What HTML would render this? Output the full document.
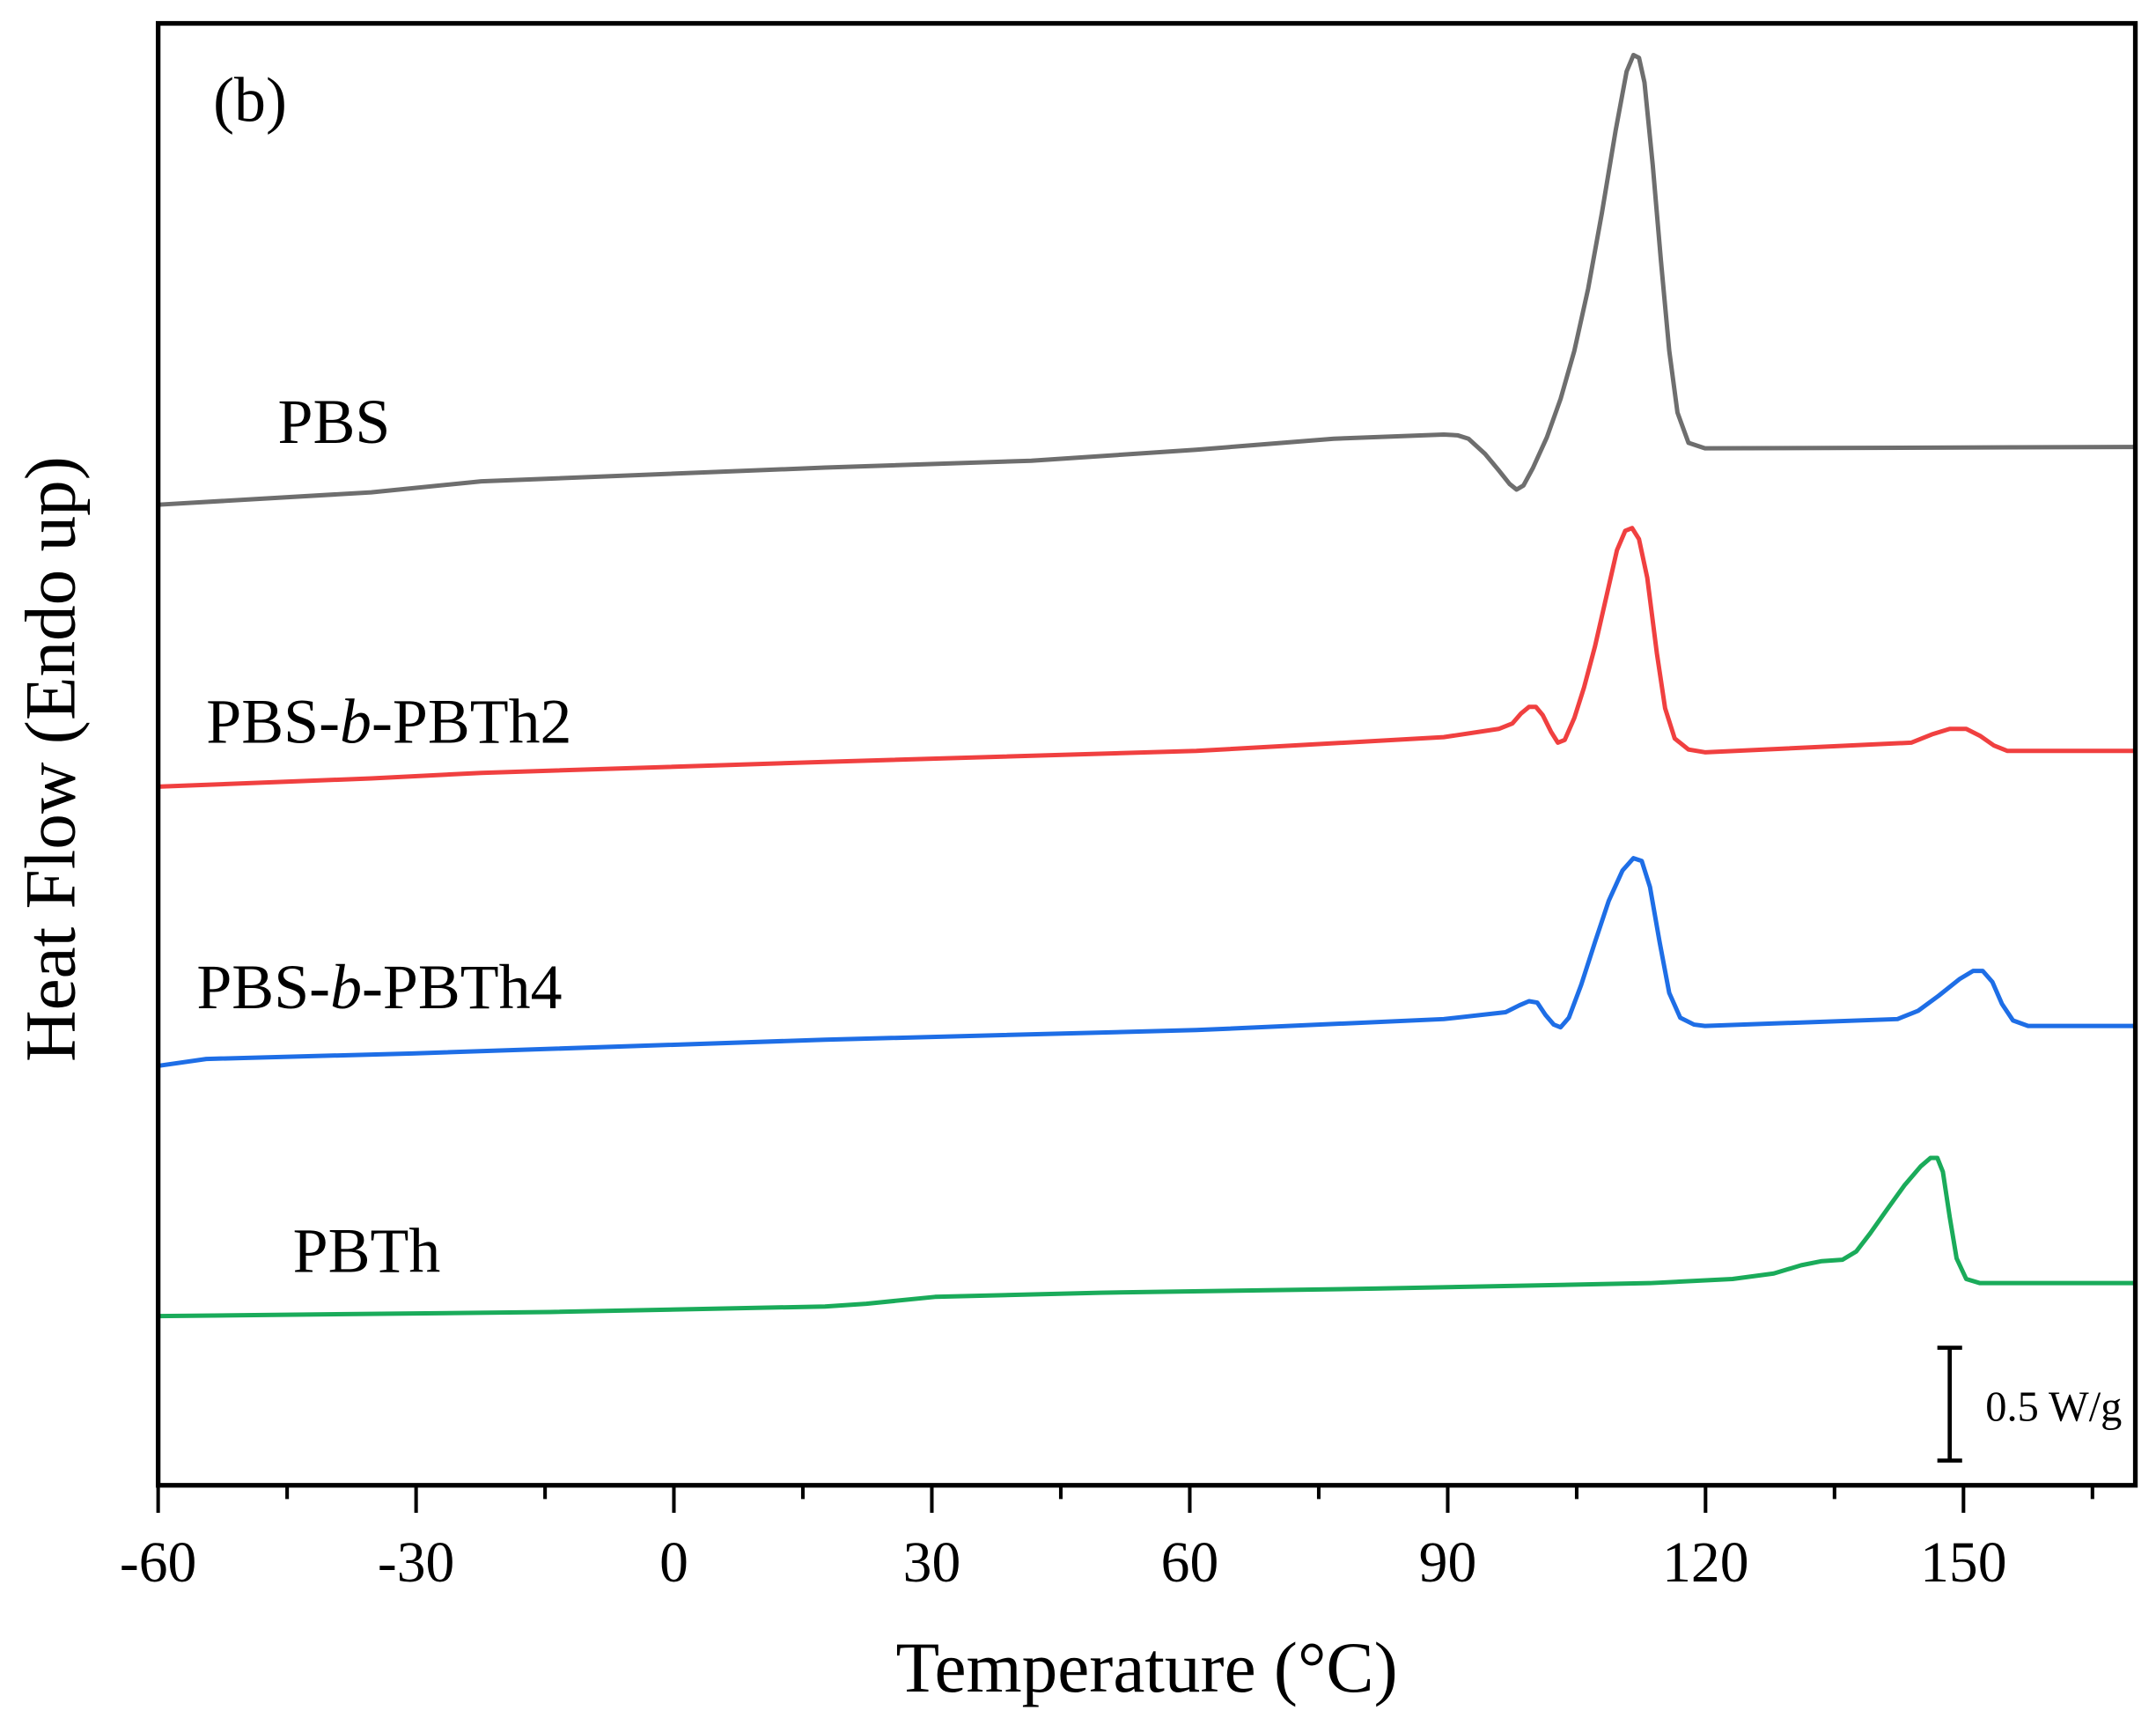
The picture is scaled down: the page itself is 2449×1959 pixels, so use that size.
<!DOCTYPE html>
<html><head><meta charset="utf-8"><style>html,body{margin:0;padding:0;background:#fff}svg{display:block}</style></head>
<body>
<svg width="2449" height="1959" viewBox="0 0 1568 1254.3" xmlns="http://www.w3.org/2000/svg" font-family="Liberation Serif, serif">
<rect width="1568" height="1254.3" fill="#fff"/>
<g fill="none" stroke-width="3.2" stroke-linejoin="round" stroke-linecap="round">
<polyline stroke="#6e6e6e" points="115,367 270,358 350,350 600,340 750,335 870,327 970,319 1050,316 1060,316.5 1068,319 1080,330 1090,342 1098,352 1103,356 1108,353 1115,340 1125,318 1135,290 1145,255 1155,210 1165,155 1175,95 1183,52 1188,40 1192,42 1196,60 1202,120 1208,190 1214,255 1220,300 1228,322 1240,326 1553,325"/>
<polyline stroke="#f04040" points="115,572 270,566 350,562 600,554 870,546 1050,536 1090,530 1100,526 1106,519 1112,514 1117,514 1122,520 1128,532 1133,540 1138,538 1145,522 1152,500 1160,470 1168,435 1176,400 1182,386 1187,384 1192,392 1198,420 1205,475 1211,515 1218,537 1228,545 1240,547 1390,540 1405,534 1418,530 1430,530 1440,535 1450,542 1460,546 1553,546"/>
<polyline stroke="#1e6ee6" points="115,775 150,770 300,766 600,756 870,749 1050,741 1095,736 1105,731 1112,728 1118,729 1124,738 1130,745 1135,747 1141,740 1150,716 1160,685 1170,655 1180,633 1188,624 1194,626 1200,645 1207,685 1214,722 1222,740 1232,745 1240,746 1380,741 1395,735 1410,724 1425,712 1435,706 1442,706 1449,714 1456,730 1464,742 1475,746 1553,746"/>
<polyline stroke="#1aab5a" points="115,957 400,954 600,950 630,948 680,943 800,940 1000,937 1200,933 1260,930 1290,926 1310,920 1325,917 1340,916 1350,910 1360,897 1372,880 1385,862 1397,848 1404,842 1409,842 1413,852 1418,885 1423,915 1430,930 1440,933 1553,933"/>
</g>
<rect x="115" y="17" width="1438" height="1063" fill="none" stroke="#000" stroke-width="3.4"/>
<g stroke="#000" stroke-width="2.6">
<line x1="115" y1="1080" x2="115" y2="1100"/><line x1="302.6" y1="1080" x2="302.6" y2="1100"/><line x1="490.1" y1="1080" x2="490.1" y2="1100"/><line x1="677.7" y1="1080" x2="677.7" y2="1100"/><line x1="865.3" y1="1080" x2="865.3" y2="1100"/><line x1="1052.9" y1="1080" x2="1052.9" y2="1100"/><line x1="1240.4" y1="1080" x2="1240.4" y2="1100"/><line x1="1428" y1="1080" x2="1428" y2="1100"/>
<line x1="208.8" y1="1080" x2="208.8" y2="1090"/><line x1="396.4" y1="1080" x2="396.4" y2="1090"/><line x1="583.9" y1="1080" x2="583.9" y2="1090"/><line x1="771.5" y1="1080" x2="771.5" y2="1090"/><line x1="959.1" y1="1080" x2="959.1" y2="1090"/><line x1="1146.7" y1="1080" x2="1146.7" y2="1090"/><line x1="1334.2" y1="1080" x2="1334.2" y2="1090"/><line x1="1521.8" y1="1080" x2="1521.8" y2="1090"/>
<line x1="1418" y1="980" x2="1418" y2="1062" stroke-width="3"/><line x1="1409" y1="980" x2="1427" y2="980" stroke-width="3"/><line x1="1409" y1="1062" x2="1427" y2="1062" stroke-width="3"/>
</g>
<g font-size="42" text-anchor="middle" fill="#000">
<text x="115" y="1150">-60</text><text x="302.6" y="1150">-30</text><text x="490.1" y="1150">0</text><text x="677.7" y="1150">30</text><text x="865.3" y="1150">60</text><text x="1052.9" y="1150">90</text><text x="1240.4" y="1150">120</text><text x="1428" y="1150">150</text>
</g>
<text x="834" y="1230" font-size="52" text-anchor="middle">Temperature (°C)</text>
<text transform="translate(54,552) rotate(-90)" font-size="52" text-anchor="middle">Heat Flow (Endo up)</text>
<g font-size="46">
<text x="155" y="88">(b)</text>
<text x="202" y="322">PBS</text>
<text x="150" y="540">PBS-<tspan font-style="italic">b</tspan>-PBTh2</text>
<text x="143" y="733">PBS-<tspan font-style="italic">b</tspan>-PBTh4</text>
<text x="213" y="925">PBTh</text>
</g>
<text x="1444" y="1033" font-size="31">0.5 W/g</text>
</svg>
</body></html>
